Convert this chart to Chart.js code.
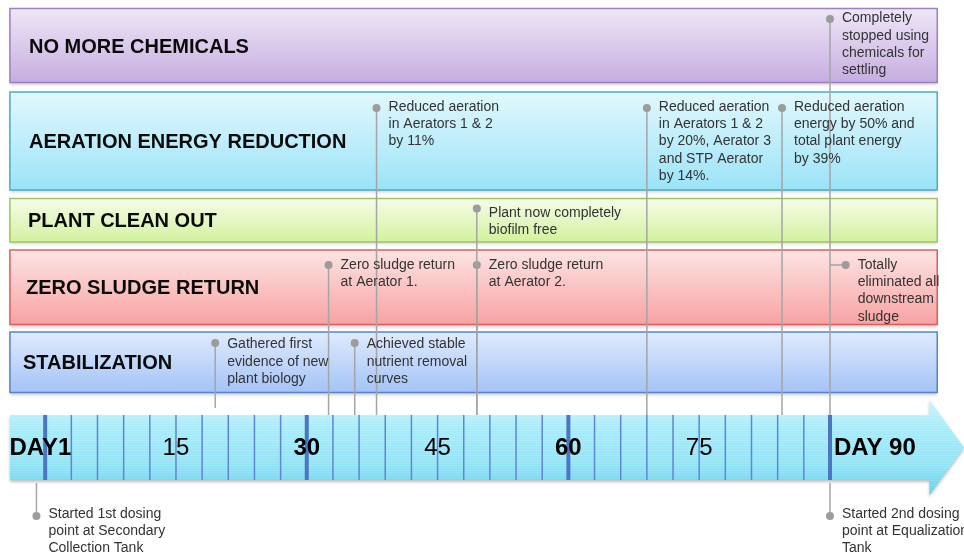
<!DOCTYPE html>
<html><head><meta charset="utf-8">
<script src="https://cdn.jsdelivr.net/npm/chart.js@4.4.1/dist/chart.umd.min.js"></script>
<style>html,body{margin:0;padding:0;background:#fff;overflow:hidden}#wrap{width:964px;height:554px}</style>
</head><body><div id="wrap"><canvas id="c" width="964" height="554"></canvas></div>
<script>
// ---------------- DATA ----------------
const laneNames = ['NO MORE CHEMICALS', 'AERATION ENERGY REDUCTION', 'PLANT CLEAN OUT', 'ZERO SLUDGE RETURN', 'STABILIZATION'];
const tickDays = [0, 15, 30, 45, 60, 75, 90];
const tickLabels = ['DAY1', '15', '30', '45', '60', '75', 'DAY 90'];
const tickBold = [true, false, true, false, true, false, true];
const majorDays = [0, 30, 60, 90];
const minorStepDays = 3;
const lastDay = 90;
const eventDays = [38, 69, 84.5, 90, 49.5, 32.5, 49.5, 91.8, 19.5, 35.5, -1, 90];
const eventLanes = [1, 1, 1, 0, 2, 3, 3, 3, 4, 4, 5, 5];
const eventTexts = [
  'Reduced aeration\nin Aerators 1 & 2\nby 11%',
  'Reduced aeration\nin Aerators 1 & 2\nby 20%, Aerator 3\nand STP Aerator\nby 14%.',
  'Reduced aeration\nenergy by 50% and\ntotal plant energy\nby 39%',
  'Completely\nstopped using\nchemicals for\nsettling',
  'Plant now completely\nbiofilm free',
  'Zero sludge return\nat Aerator 1.',
  'Zero sludge return\nat Aerator 2.',
  'Totally\neliminated all\ndownstream\nsludge',
  'Gathered first\nevidence of new\nplant biology',
  'Achieved stable\nnutrient removal\ncurves',
  'Started 1st dosing\npoint at Secondary\nCollection Tank',
  'Started 2nd dosing\npoint at Equalization\nTank'
];
// event 7 branches off the day-90 stem
const eventStemDay = {7: 90};

// ---------------- LAYOUT / STYLE ----------------
const FONT = '"Liberation Sans", Arial, Helvetica, sans-serif';
const X_MIN = -5.18, X_MAX = 105.37;
const bandStart = -4.04, bandEnd = 102.3;
const arrowStart = -4.04, arrowHeadBase = 101.4, arrowTip = 105.37;
const TL = {top: 415, bottom: 480, headTop: 400, headBottom: 495, below: 483, stemEnd: 415};
const lanesLayout = [
  {top: 8.5, bottom: 82.5, dotY: 19, textY: 18.5, labelDx: 19, c1: '#EFE7F7', c2: '#C6ADE0', stroke: '#9D80C4'},
  {top: 92, bottom: 190, dotY: 108, textY: 107, labelDx: 19, c1: '#E2F8FD', c2: '#9BE3F8', stroke: '#4BACC6'},
  {top: 198.5, bottom: 242, dotY: 208.5, textY: 213, labelDx: 18, c1: '#F6FCE8', c2: '#D3F19F', stroke: '#A2C364'},
  {top: 250, bottom: 324.5, dotY: 265, textY: 265, labelDx: 16, c1: '#FDE4E4', c2: '#F8A2A2', stroke: '#D7605F'},
  {top: 332, bottom: 392.5, dotY: 343, textY: 344.5, labelDx: 13, c1: '#E0EBFD', c2: '#A3C3F8', stroke: '#5784C6'},
  {dotY: 516, textY: 514}
];
const stemEndOverride = {8: 408};
const LINE_COLOR = '#A5A5A5', DOT_COLOR = '#9C9C9C', TEXT_COLOR = '#333333';

// ---------------- DATASETS ----------------
const datasets = eventDays.map((d, i) => {
  const lane = eventLanes[i];
  const L = lanesLayout[lane];
  let data, dotIdx;
  if (lane === 5) {
    data = [{x: d, y: TL.below}, {x: d, y: L.dotY}]; dotIdx = 1;
  } else if (eventStemDay[i] !== undefined) {
    data = [{x: eventStemDay[i], y: L.dotY}, {x: d, y: L.dotY}]; dotIdx = 1;
  } else {
    data = [{x: d, y: L.dotY}, {x: d, y: stemEndOverride[i] || TL.stemEnd}]; dotIdx = 0;
  }
  return {
    label: eventTexts[i].replace(/\n/g, ' '),
    data, showLine: true, borderColor: LINE_COLOR, borderWidth: 1.5,
    pointRadius: c => c.dataIndex === dotIdx ? 4 : 0,
    pointHoverRadius: 0,
    pointBackgroundColor: DOT_COLOR, pointBorderWidth: 0,
    _dotIdx: dotIdx, _lane: lane
  };
});

function drawMultiline(ctx, text, x, y, lh) {
  text.split('\n').forEach((t, k) => ctx.fillText(t, x, y + k * lh));
}

const backdrop = {
  id: 'backdrop',
  beforeDatasetsDraw(chart) {
    const {ctx} = chart; const xs = chart.scales.x, ys = chart.scales.y;
    const px = v => xs.getPixelForValue(v), py = v => ys.getPixelForValue(v);
    ctx.save();
    // lanes
    const bx0 = px(bandStart), bx1 = px(bandEnd);
    laneNames.forEach((name, i) => {
      const L = lanesLayout[i];
      const y0 = py(L.top), y1 = py(L.bottom);
      ctx.save();
      ctx.shadowColor = 'rgba(0,0,0,0.22)'; ctx.shadowBlur = 3; ctx.shadowOffsetY = 2;
      const g = ctx.createLinearGradient(0, y0, 0, y1);
      g.addColorStop(0, L.c1); g.addColorStop(1, L.c2);
      ctx.fillStyle = g; ctx.fillRect(bx0, y0, bx1 - bx0, y1 - y0);
      ctx.restore();
      ctx.strokeStyle = L.stroke; ctx.lineWidth = 1.5;
      ctx.strokeRect(bx0, y0, bx1 - bx0, y1 - y0);
      ctx.fillStyle = '#0a0a0a'; ctx.font = 'bold 20px ' + FONT;
      ctx.textBaseline = 'middle'; ctx.textAlign = 'left';
      ctx.fillText(name, bx0 + L.labelDx, (y0 + y1) / 2 + 1.5);
    });
    // timeline arrow
    const ax0 = px(arrowStart), ahb = px(arrowHeadBase), atip = px(arrowTip);
    const t0 = py(TL.top), t1 = py(TL.bottom), h0 = py(TL.headTop), h1 = py(TL.headBottom);
    const cy = (t0 + t1) / 2;
    const arrowPath = () => {
      ctx.beginPath();
      ctx.moveTo(ax0, t0); ctx.lineTo(ahb, t0); ctx.lineTo(ahb, h0); ctx.lineTo(atip, cy);
      ctx.lineTo(ahb, h1); ctx.lineTo(ahb, t1); ctx.lineTo(ax0, t1); ctx.closePath();
    };
    arrowPath();
    ctx.save();
    ctx.shadowColor = 'rgba(0,0,0,0.25)'; ctx.shadowBlur = 3; ctx.shadowOffsetY = 2;
    const ga = ctx.createLinearGradient(0, h0, 0, h1);
    ga.addColorStop(0, '#C4F4FD'); ga.addColorStop(0.3, '#A6ECFA'); ga.addColorStop(0.7, '#8EE2F6'); ga.addColorStop(1, '#62CDE9');
    ctx.fillStyle = ga; ctx.fill();
    ctx.restore();
    ctx.save(); arrowPath(); ctx.clip();
    ctx.strokeStyle = 'rgba(255,255,255,0.18)'; ctx.lineWidth = 1;
    for (let y = h0; y < h1; y += 2.5) { ctx.beginPath(); ctx.moveTo(ax0, y + 0.5); ctx.lineTo(atip, y + 0.5); ctx.stroke(); }
    ctx.restore();
    // minor / major day lines
    for (let d = minorStepDays; d < lastDay; d += minorStepDays) {
      if (majorDays.includes(d)) continue;
      const x = px(d);
      ctx.strokeStyle = '#5F86D2'; ctx.lineWidth = 1.5;
      ctx.beginPath(); ctx.moveTo(x, t0); ctx.lineTo(x, t1); ctx.stroke();
    }
    majorDays.forEach(d => {
      const x = px(d);
      ctx.strokeStyle = '#4B77C2'; ctx.lineWidth = 4;
      ctx.beginPath(); ctx.moveTo(x, t0); ctx.lineTo(x, t1); ctx.stroke();
    });
    // tick labels
    ctx.textBaseline = 'middle';
    tickDays.forEach((d, i) => {
      ctx.font = (tickBold[i] ? 'bold ' : '') + '24px ' + FONT;
      ctx.fillStyle = '#000';
      let x = px(d), align = 'center';
      if (i === tickDays.length - 1) { x = x + 4; align = 'left'; }
      if (i === 0) { x = ax0 - 0.5; align = 'left'; }
      ctx.textAlign = align;
      ctx.fillText(tickLabels[i], x, cy + 0.5);
    });
    ctx.restore();
  },
  afterDatasetsDraw(chart) {
    const {ctx} = chart; const xs = chart.scales.x, ys = chart.scales.y;
    ctx.save();
    ctx.font = '14px ' + FONT; ctx.fillStyle = TEXT_COLOR;
    ctx.textAlign = 'left'; ctx.textBaseline = 'middle';
    chart.data.datasets.forEach((ds, i) => {
      const p = ds.data[ds._dotIdx];
      const L = lanesLayout[ds._lane];
      const x = xs.getPixelForValue(p.x) + 12;
      drawMultiline(ctx, eventTexts[i], x, ys.getPixelForValue(L.textY), 17.3);
    });
    ctx.restore();
  }
};

new Chart(document.getElementById('c'), {
  type: 'scatter',
  data: {datasets},
  options: {
    responsive: false, animation: false, devicePixelRatio: 1,
    layout: {padding: 0, autoPadding: false},
    plugins: {legend: {display: false}, tooltip: {enabled: false}},
    events: [],
    scales: {
      x: {type: 'linear', min: X_MIN, max: X_MAX, display: false},
      y: {type: 'linear', min: 0, max: 554, reverse: true, display: false}
    }
  },
  plugins: [backdrop]
});
</script>
</body></html>
